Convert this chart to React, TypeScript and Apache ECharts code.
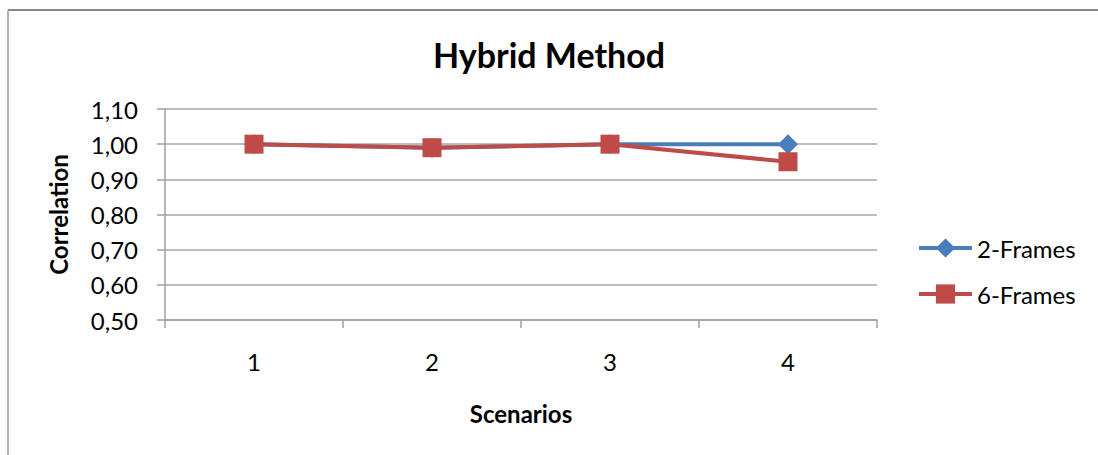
import React, { useEffect, useRef } from "react";
import * as echarts from "echarts";

const categories = ["1", "2", "3", "4"];
const twoFrames = [1.0, 0.99, 1.0, 1.0];
const sixFrames = [1.0, 0.99, 1.0, 0.95];
const seriesNames = ["2-Frames", "6-Frames"];
const yMin = 0.5;
const yMax = 1.1;
const yStep = 0.1;

const FONT = "Lato, 'Noto Sans', sans-serif";

export default function App() {
  const ref = useRef<HTMLDivElement>(null);
  useEffect(() => {
    if (!ref.current) return;
    const chart = echarts.init(ref.current, undefined, { renderer: "svg" });
    chart.setOption({
      animation: false,
      backgroundColor: "#ffffff",
      textStyle: { fontFamily: FONT },
      title: {
        text: "Hybrid Method",
        left: "center",
        top: 37,
        padding: 0,
        textStyle: { fontFamily: FONT, fontSize: 34, fontWeight: "bold", color: "#000" },
      },
      graphic: [
        { type: "line", shape: { x1: 8, y1: 10, x2: 1098, y2: 10 }, style: { stroke: "#888", lineWidth: 2 } },
        { type: "line", shape: { x1: 8, y1: 10, x2: 8, y2: 455 }, style: { stroke: "#999", lineWidth: 1.5 } },
      ],
      legend: {
        orient: "vertical",
        left: 917,
        top: 236,
        itemWidth: 53,
        itemHeight: 24,
        itemGap: 22,
        padding: 0,
        data: seriesNames,
        lineStyle: { width: 4 },
        textStyle: { fontFamily: FONT, fontSize: 24, color: "#000" },
      },
      grid: { left: 165, right: 221, top: 109, bottom: 135, containLabel: false },
      xAxis: {
        type: "category",
        data: categories,
        boundaryGap: true,
        name: "Scenarios",
        nameLocation: "middle",
        nameGap: 81,
        nameTextStyle: { fontFamily: FONT, fontSize: 24, fontWeight: "bold", color: "#000" },
        axisLine: { lineStyle: { color: "#a0a0a0", width: 1.5 } },
        axisTick: { show: true, length: 8, alignWithLabel: false, lineStyle: { color: "#a0a0a0", width: 1.5 } },
        axisLabel: { margin: 29, fontSize: 24, color: "#000", fontFamily: FONT },
        splitLine: { show: false },
      },
      yAxis: {
        type: "value",
        min: yMin,
        max: yMax,
        interval: yStep,
        name: "Correlation",
        nameLocation: "middle",
        nameRotate: 90,
        nameGap: 95,
        nameTextStyle: { fontFamily: FONT, fontSize: 24, fontWeight: "bold", color: "#000" },
        axisLine: { show: true, lineStyle: { color: "#a0a0a0", width: 1.5 } },
        axisTick: { show: true, length: 8, lineStyle: { color: "#a0a0a0", width: 1.5 } },
        axisLabel: {
          margin: 27,
          fontSize: 24,
          color: "#000",
          fontFamily: FONT,
          formatter: (v: number) => v.toFixed(2).replace(".", ","),
        },
        splitLine: { show: true, lineStyle: { color: "#a6a6a6", width: 1.5 } },
      },
      series: [
        {
          name: seriesNames[0],
          type: "line",
          data: twoFrames,
          symbol: "diamond",
          symbolSize: 20,
          color: "#4a7ebb",
          lineStyle: { width: 4, color: "#4a7ebb" },
          itemStyle: { color: "#4a7ebb" },
        },
        {
          name: seriesNames[1],
          type: "line",
          data: sixFrames,
          symbol: "rect",
          symbolSize: 19,
          color: "#be4b48",
          lineStyle: { width: 4, color: "#be4b48" },
          itemStyle: { color: "#be4b48" },
        },
      ],
    });
    return () => chart.dispose();
  }, []);
  return (
    <div
      ref={ref}
      style={{ position: "fixed", left: 0, top: 0, width: 1098, height: 455 }}
    />
  );
}
